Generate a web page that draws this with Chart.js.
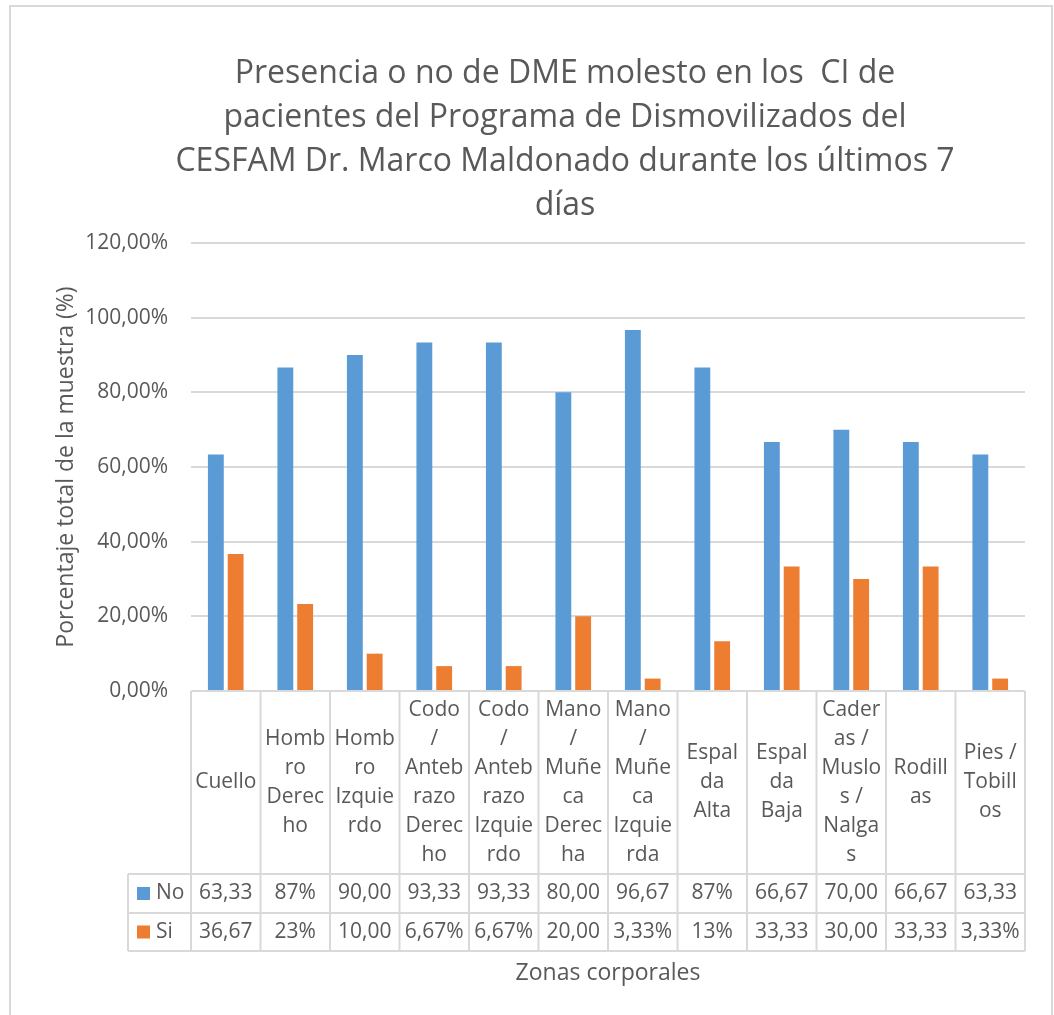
<!DOCTYPE html>
<html>
<head>
<meta charset="utf-8">
<script src="https://cdn.jsdelivr.net/npm/chart.js@4.4.0/dist/chart.umd.min.js"></script>
<style>
  html, body { margin: 0; padding: 0; background: #fff; }
  #wrap { width: 1054px; height: 1015px; position: relative; }
</style>
</head>
<body>
<div id="wrap"><canvas id="c"></canvas></div>
<script>
// categories and the way Excel wrapped them in the data table
var categories = ['Cuello', 'Hombro Derecho', 'Hombro Izquierdo', 'Codo / Antebrazo Derecho',
  'Codo / Antebrazo Izquierdo', 'Mano / Muñeca Derecha', 'Mano / Muñeca Izquierda',
  'Espalda Alta', 'Espalda Baja', 'Caderas / Muslos / Nalgas', 'Rodillas', 'Pies / Tobillos'];
var categoryLines = [
  ['Cuello'], ['Homb', 'ro', 'Derec', 'ho'], ['Homb', 'ro', 'Izquie', 'rdo'],
  ['Codo', '/', 'Anteb', 'razo', 'Derec', 'ho'], ['Codo', '/', 'Anteb', 'razo', 'Izquie', 'rdo'],
  ['Mano', '/', 'Muñe', 'ca', 'Derec', 'ha'], ['Mano', '/', 'Muñe', 'ca', 'Izquie', 'rda'],
  ['Espal', 'da', 'Alta'], ['Espal', 'da', 'Baja'], ['Cader', 'as /', 'Muslo', 's /', 'Nalga', 's'],
  ['Rodill', 'as'], ['Pies /', 'Tobill', 'os']
];
var seriesNames = ['No', 'Si'];
var noValues = [63.33, 86.67, 90.00, 93.33, 93.33, 80.00, 96.67, 86.67, 66.67, 70.00, 66.67, 63.33];
var siValues = [36.67, 23.33, 10.00, 6.67, 6.67, 20.00, 3.33, 13.33, 33.33, 30.00, 33.33, 3.33];
// text as it shows in the table cells
var noText = ['63,33', '87%', '90,00', '93,33', '93,33', '80,00', '96,67', '87%', '66,67', '70,00', '66,67', '63,33'];
var siText = ['36,67', '23%', '10,00', '6,67%', '6,67%', '20,00', '3,33%', '13%', '33,33', '30,00', '33,33', '3,33%'];
var titleLines = ['Presencia o no de DME molesto en los  CI de',
  'pacientes del Programa de Dismovilizados del',
  'CESFAM Dr. Marco Maldonado durante los últimos 7',
  'días'];

var FONT = '"Open Sans", "Noto Sans", sans-serif';
var TEXT = '#595959';
var LINE = '#D9D9D9';
var BLUE = '#5B9BD5';
var ORANGE = '#ED7D31';

// white background, outer frame and the title
var framePlugin = {
  id: 'frame',
  beforeDraw: function (chart) {
    var ctx = chart.ctx;
    ctx.save();
    ctx.fillStyle = '#fff';
    ctx.fillRect(0, 0, chart.width, chart.height);
    ctx.strokeStyle = LINE;
    ctx.lineWidth = 2;
    ctx.strokeRect(10, 6, 1042, 1030);
    ctx.fillStyle = TEXT;
    ctx.font = '32px ' + FONT;
    ctx.textAlign = 'center';
    ctx.textBaseline = 'alphabetic';
    for (var i = 0; i < titleLines.length; i++) {
      ctx.fillText(titleLines[i], 565, 83 + i * 44);
    }
    ctx.restore();
  }
};

// data table under the plot
var tablePlugin = {
  id: 'dataTable',
  afterDraw: function (chart) {
    var ctx = chart.ctx;
    var xaxis = chart.scales.x;
    var area = chart.chartArea;
    var n = categories.length;
    var w = (area.right - area.left) / n;
    var top = area.bottom;
    var catBottom = top + 183;
    var noBottom = catBottom + 39;
    var siBottom = noBottom + 38;
    var legLeft = 128;

    ctx.save();
    ctx.strokeStyle = LINE;
    ctx.lineWidth = 2;
    ctx.beginPath();
    ctx.moveTo(area.left, top); ctx.lineTo(area.right, top);
    [catBottom, noBottom, siBottom].forEach(function (y) {
      ctx.moveTo(legLeft, y); ctx.lineTo(area.right, y);
    });
    for (var i = 0; i <= n; i++) {
      var xx = area.left + i * w;
      ctx.moveTo(xx, top); ctx.lineTo(xx, siBottom);
    }
    ctx.moveTo(legLeft, catBottom); ctx.lineTo(legLeft, siBottom);
    ctx.stroke();

    ctx.fillStyle = TEXT;
    ctx.font = '21px ' + FONT;
    ctx.textAlign = 'center';
    ctx.textBaseline = 'middle';
    var lh = 29;
    var midCat = (top + catBottom) / 2;
    var midNo = (catBottom + noBottom) / 2;
    var midSi = (noBottom + siBottom) / 2;
    for (var j = 0; j < n; j++) {
      var cx = xaxis.getPixelForValue(j);
      var lines = categoryLines[j];
      var y0 = midCat - (lines.length - 1) * lh / 2;
      for (var k = 0; k < lines.length; k++) {
        ctx.fillText(lines[k], cx, y0 + k * lh);
      }
      ctx.fillText(noText[j], cx, midNo);
      ctx.fillText(siText[j], cx, midSi);
    }

    // legend keys
    var colors = [BLUE, ORANGE];
    var mids = [midNo, midSi];
    ctx.textAlign = 'left';
    for (var s = 0; s < 2; s++) {
      ctx.fillStyle = colors[s];
      ctx.fillRect(137, mids[s] - 6.5, 13, 13);
      ctx.fillStyle = TEXT;
      ctx.fillText(seriesNames[s], 156, mids[s]);
    }

    // x axis title
    ctx.textAlign = 'center';
    ctx.font = '23px ' + FONT;
    ctx.fillText('Zonas corporales', (area.left + area.right) / 2, 973);
    ctx.restore();
  }
};

new Chart(document.getElementById('c'), {
  type: 'bar',
  data: {
    labels: categories,
    datasets: [
      { label: seriesNames[0], data: noValues, backgroundColor: BLUE },
      { label: seriesNames[1], data: siValues, backgroundColor: ORANGE }
    ]
  },
  options: {
    responsive: true,
    maintainAspectRatio: false,
    animation: false,
    categoryPercentage: 0.57,
    barPercentage: 0.8,
    layout: { padding: { top: 243, right: 29, bottom: 324, left: 0 } },
    plugins: {
      legend: { display: false },
      title: { display: false },
      tooltip: { enabled: false }
    },
    scales: {
      x: { display: false },
      y: {
        min: 0,
        max: 120,
        ticks: {
          stepSize: 20,
          padding: 23,
          color: TEXT,
          font: { family: FONT, size: 21 },
          callback: function (v) { return v.toFixed(2).replace('.', ',') + '%'; }
        },
        grid: { color: LINE, lineWidth: 2, drawTicks: false },
        border: { display: false },
        title: {
          display: true,
          text: 'Porcentaje total de la muestra (%)',
          color: TEXT,
          font: { family: FONT, size: 23 },
          padding: { top: 53, bottom: 0 }
        },
        afterFit: function (scale) { scale.width = 191; }
      }
    }
  },
  plugins: [framePlugin, tablePlugin]
});
</script>
</body>
</html>
